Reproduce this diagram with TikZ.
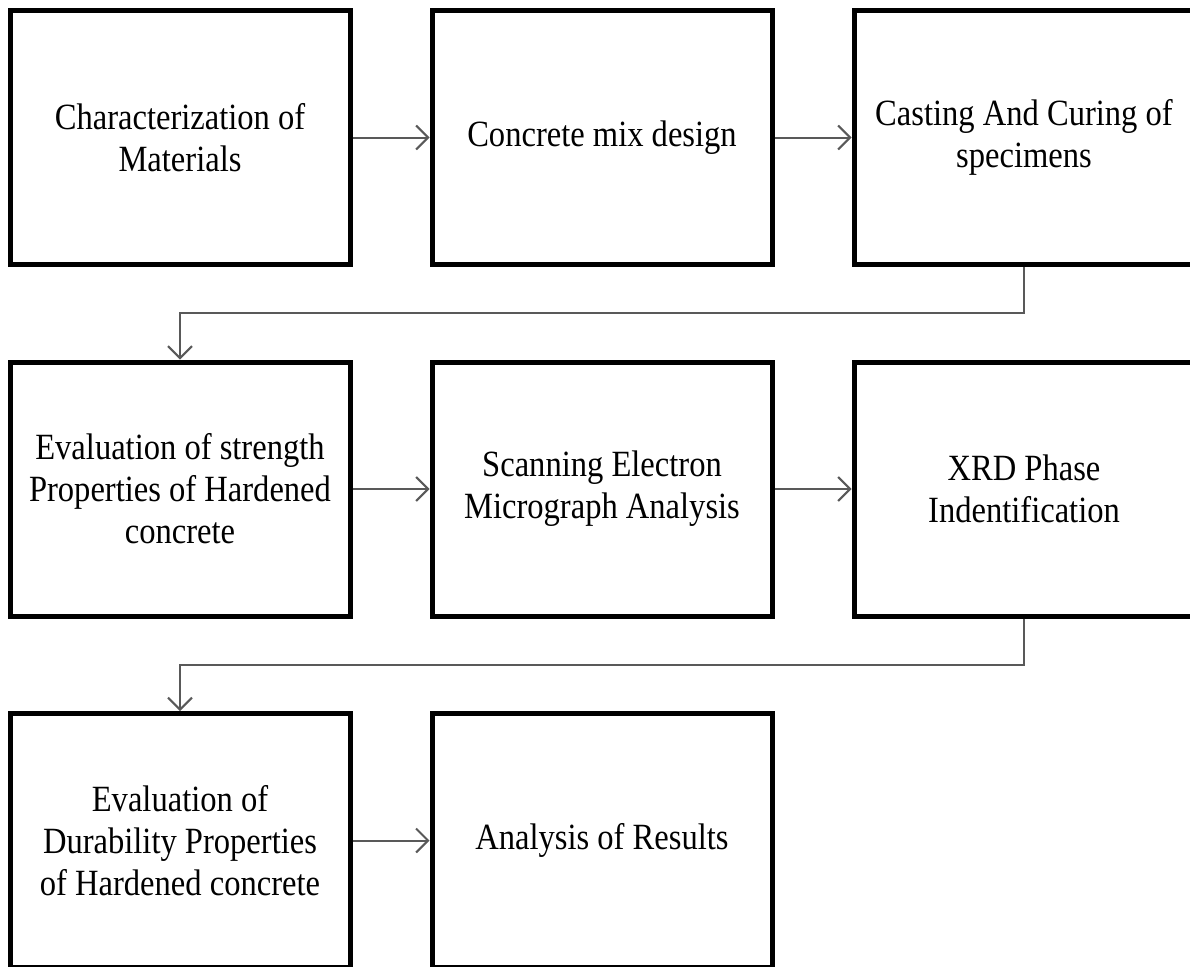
\documentclass[tikz,border=0pt]{standalone}
\usepackage{fontspec}
\setmainfont{Liberation Serif}[FakeStretch=0.88]
\usepackage{tikz}
\usetikzlibrary{arrows.meta, positioning}

\begin{document}
\begin{tikzpicture}[
    x=1pt, y=1pt,
    node distance={92.5pt and 77pt},
    every node/.style={draw, line width=5pt, align=center, minimum width=340pt, minimum height=254pt,
        font=\fontsize{37pt}{42pt}\selectfont},
    arrow/.style={-{Straight Barb[length=12pt, width=24pt]}, line width=2pt, draw=black!65}
]
\useasboundingbox (0,0) rectangle (1190,-966);

% Nodes
\node (char) at (180,-137.5) {Characterization of\\Materials};
\node (mix) [right=of char] {Concrete mix design};
\node (cast) [right=of mix] {Casting And Curing of\\specimens};
\node (strength) [below=of char] {Evaluation of strength\\Properties of Hardened\\concrete};
\node (sem) [right=of strength] {Scanning Electron\\Micrograph Analysis};
\node (xrd) [right=of sem] {XRD Phase\\Indentification};
\node (durab) [below=of strength] {Evaluation of\\Durability Properties\\of Hardened concrete};
\node (results) [right=of durab] {Analysis of Results};

% Arrows
\draw[arrow] (char) -- (mix);
\draw[arrow] (mix) -- (cast);
\draw[arrow] (cast.south) -- ++(0,-46) -| (strength.north);
\draw[arrow] (strength) -- (sem);
\draw[arrow] (sem) -- (xrd);
\draw[arrow] (xrd.south) -- ++(0,-46) -| (durab.north);
\draw[arrow] (durab) -- (results);

\end{tikzpicture}
\end{document}
